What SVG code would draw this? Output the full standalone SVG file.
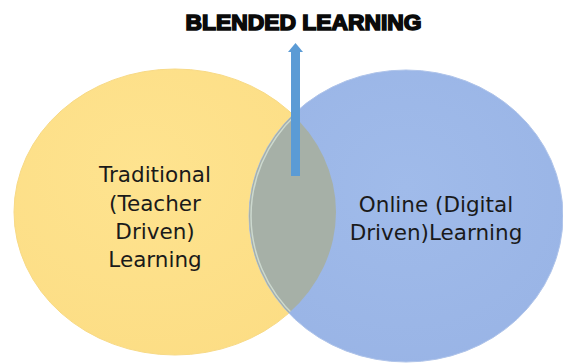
<svg xmlns="http://www.w3.org/2000/svg" width="563" height="364" viewBox="0 0 563 364">
<style>
.lbl{font-family:"DejaVu Sans","Open Sans",sans-serif;font-size:21.5px;fill:#1a1a1a;text-anchor:middle}
.title{font-family:"Liberation Sans",Arial,sans-serif;font-weight:900;font-size:22px;fill:#0a0a0a;stroke:#0a0a0a;stroke-width:1.6px}
</style>
<defs>
<radialGradient id="gy" cx="0.4" cy="0.35" r="0.75">
<stop offset="0" stop-color="#FEE38F"/>
<stop offset="1" stop-color="#FCDD84"/>
</radialGradient>
<radialGradient id="gb" cx="0.5" cy="0.4" r="0.75">
<stop offset="0" stop-color="#A0BBEA"/>
<stop offset="1" stop-color="#98B3E5"/>
</radialGradient>
<clipPath id="cy"><ellipse cx="175" cy="212" rx="161" ry="143"/></clipPath>
</defs>
<rect width="563" height="364" fill="#ffffff"/>
<g id="traditional">
<ellipse cx="175" cy="212" rx="161" ry="143" fill="url(#gy)" stroke="#F8DA86" stroke-width="1"/>
<text class="lbl" x="155" y="182">Traditional</text>
<text class="lbl" x="155" y="211">(Teacher</text>
<text class="lbl" x="155" y="239">Driven)</text>
<text class="lbl" x="155" y="267">Learning</text>
</g>
<g id="online">
<ellipse cx="406" cy="216" rx="157" ry="146" fill="url(#gb)" stroke="#AFC4EA" stroke-width="1"/>
<text class="lbl" x="436" y="212">Online (Digital</text>
<text class="lbl" x="436" y="240">Driven)Learning</text>
</g>
<g id="overlap">
<ellipse cx="406" cy="216" rx="157" ry="146" fill="#A6B0A7" clip-path="url(#cy)"/>
<ellipse cx="406" cy="216" rx="155" ry="144" fill="none" stroke="#D6E2D8" stroke-width="1.5" opacity="0.8" clip-path="url(#cy)"/>
</g>
<g id="connectors">
<rect x="291" y="51" width="9" height="125" fill="#5B9BD5"/>
<polygon points="295.5,43 303,52 288,52" fill="#5B9BD5"/>
</g>
<g id="blended">
<text class="title" x="303.5" y="30" text-anchor="middle" textLength="236" lengthAdjust="spacingAndGlyphs">BLENDED LEARNING</text>
</g>
</svg>
